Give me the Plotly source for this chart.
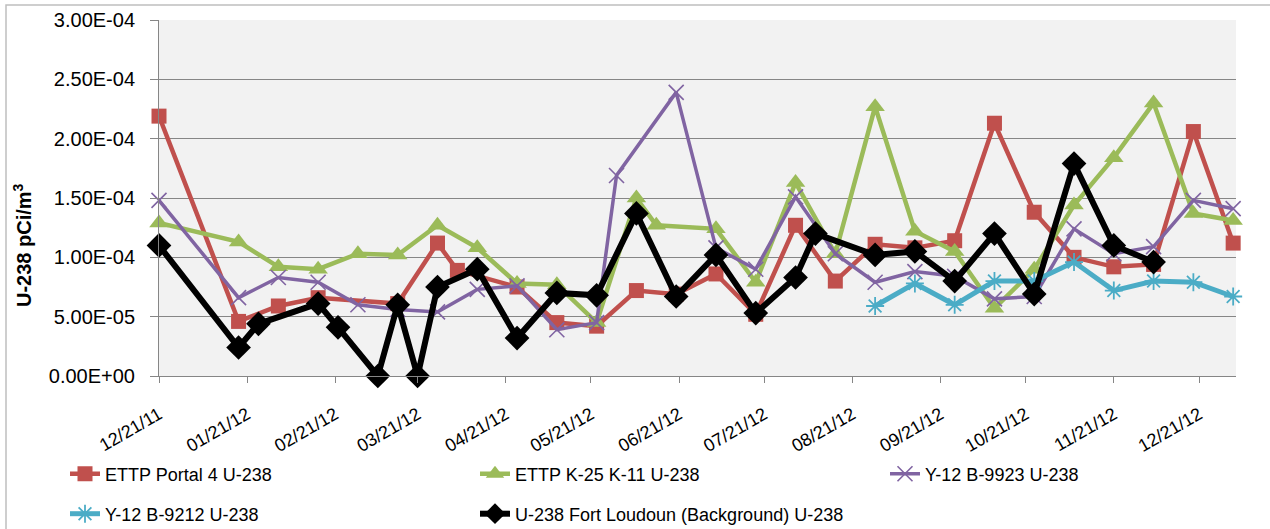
import plotly.graph_objects as go

# ---------------- data ----------------
red_dates = ["2011-12-21", "2012-01-18", "2012-02-01", "2012-02-15", "2012-03-14", "2012-03-28",
             "2012-04-04", "2012-04-25", "2012-05-09", "2012-05-23", "2012-06-06", "2012-06-20",
             "2012-07-04", "2012-07-18", "2012-08-01", "2012-08-15", "2012-08-29", "2012-09-12",
             "2012-09-26", "2012-10-10", "2012-10-24", "2012-11-07", "2012-11-21", "2012-12-05",
             "2012-12-19", "2013-01-02"]
red_vals = [2.19e-4, 4.6e-5, 5.9e-5, 6.6e-5, 6.1e-5, 1.12e-4,
            8.9e-5, 7.5e-5, 4.5e-5, 4.2e-5, 7.2e-5, 6.9e-5,
            8.6e-5, 5.2e-5, 1.27e-4, 8.0e-5, 1.11e-4, 1.08e-4,
            1.14e-4, 2.13e-4, 1.38e-4, 1.00e-4, 9.2e-5, 9.4e-5,
            2.06e-4, 1.12e-4]

green_dates = ["2011-12-21", "2012-01-18", "2012-02-01", "2012-02-15", "2012-02-29", "2012-03-14",
               "2012-03-28", "2012-04-11", "2012-04-25", "2012-05-09", "2012-05-23", "2012-06-06",
               "2012-06-13", "2012-07-04", "2012-07-18", "2012-08-01", "2012-08-15", "2012-08-29",
               "2012-09-12", "2012-09-26", "2012-10-10", "2012-10-24", "2012-11-07", "2012-11-21",
               "2012-12-05", "2012-12-19", "2013-01-02"]
green_vals = [1.29e-4, 1.13e-4, 9.2e-5, 9.0e-5, 1.03e-4, 1.02e-4,
              1.27e-4, 1.08e-4, 7.8e-5, 7.7e-5, 4.5e-5, 1.50e-4,
              1.27e-4, 1.24e-4, 7.9e-5, 1.63e-4, 1.03e-4, 2.27e-4,
              1.22e-4, 1.05e-4, 5.7e-5, 9.0e-5, 1.44e-4, 1.84e-4,
              2.30e-4, 1.37e-4, 1.31e-4]

purple_dates = ["2011-12-21", "2012-01-18", "2012-02-01", "2012-02-15", "2012-02-29", "2012-03-14",
                "2012-03-28", "2012-04-11", "2012-04-25", "2012-05-09", "2012-05-23", "2012-05-30",
                "2012-06-20", "2012-07-04", "2012-07-18", "2012-08-01", "2012-08-15", "2012-08-29",
                "2012-09-12", "2012-09-26", "2012-10-10", "2012-10-24", "2012-11-07", "2012-11-21",
                "2012-12-05", "2012-12-19", "2013-01-02"]
purple_vals = [1.48e-4, 6.6e-5, 8.3e-5, 7.9e-5, 6.0e-5, 5.6e-5,
               5.4e-5, 7.3e-5, 7.6e-5, 3.9e-5, 4.5e-5, 1.69e-4,
               2.39e-4, 1.08e-4, 9.0e-5, 1.51e-4, 1.03e-4, 7.9e-5,
               8.8e-5, 8.4e-5, 6.5e-5, 6.7e-5, 1.24e-4, 1.03e-4,
               1.09e-4, 1.48e-4, 1.41e-4]

cyan_dates = ["2012-08-29", "2012-09-12", "2012-09-26", "2012-10-10", "2012-10-24", "2012-11-07",
              "2012-11-21", "2012-12-05", "2012-12-19", "2013-01-02"]
cyan_vals = [5.9e-5, 7.8e-5, 6.0e-5, 8.0e-5, 8.0e-5, 9.6e-5,
             7.2e-5, 8.0e-5, 7.9e-5, 6.7e-5]

black_dates = ["2011-12-21", "2012-01-18", "2012-01-25", "2012-02-15", "2012-02-22", "2012-03-07",
               "2012-03-14", "2012-03-21", "2012-03-28", "2012-04-11", "2012-04-25", "2012-05-09",
               "2012-05-23", "2012-06-06", "2012-06-20", "2012-07-04", "2012-07-18", "2012-08-01",
               "2012-08-08", "2012-08-29", "2012-09-12", "2012-09-26", "2012-10-10", "2012-10-24",
               "2012-11-07", "2012-11-21", "2012-12-05"]
black_vals = [1.10e-4, 2.4e-5, 4.4e-5, 6.1e-5, 4.1e-5, 0.0,
              6.0e-5, 0.0, 7.5e-5, 9.0e-5, 3.2e-5, 7.0e-5,
              6.8e-5, 1.37e-4, 6.7e-5, 1.02e-4, 5.3e-5, 8.3e-5,
              1.20e-4, 1.02e-4, 1.05e-4, 8.0e-5, 1.20e-4, 6.9e-5,
              1.79e-4, 1.10e-4, 9.6e-5]

series_names = ["ETTP Portal 4 U-238", "ETTP K-25 K-11 U-238", "Y-12 B-9923 U-238",
                "Y-12 B-9212 U-238", "U-238 Fort Loudoun (Background) U-238"]

y_tickvals = [0, 5e-5, 1e-4, 1.5e-4, 2e-4, 2.5e-4, 3e-4]
y_ticktext = ["0.00E+00", "5.00E-05", "1.00E-04", "1.50E-04", "2.00E-04", "2.50E-04", "3.00E-04"]

y_title = "U-238 pCi/m<sup>3</sup>"

FONT = "Liberation Sans"

W, H = 1270, 529
L, R, T, B = 159, 34, 20, 153
pw = W - L - R
ph = H - T - B


def px_x(p):
    return (p - L) / pw


def px_y(p):
    return (H - B - p) / ph


fig = go.Figure()

fig.add_trace(go.Scatter(
    x=red_dates, y=red_vals, name=series_names[0], mode="lines+markers",
    line=dict(color="#C0504D", width=4.5),
    marker=dict(symbol="square", size=15, color="#C0504D"),
    cliponaxis=False, legend="legend"))
fig.add_trace(go.Scatter(
    x=green_dates, y=green_vals, name=series_names[1], mode="lines+markers",
    line=dict(color="#9BBB59", width=4.5),
    marker=dict(symbol="triangle-up", size=17, color="#9BBB59"),
    cliponaxis=False, legend="legend2"))
fig.add_trace(go.Scatter(
    x=purple_dates, y=purple_vals, name=series_names[2], mode="lines+markers",
    line=dict(color="#8064A2", width=3.5),
    marker=dict(symbol="x-thin", size=15, color="#8064A2", line=dict(color="#8064A2", width=1.6)),
    cliponaxis=False, legend="legend3"))
fig.add_trace(go.Scatter(
    x=cyan_dates, y=cyan_vals, name=series_names[3], mode="lines+markers",
    line=dict(color="#4BACC6", width=5),
    marker=dict(symbol="asterisk-open", size=15, color="#4BACC6", line=dict(color="#4BACC6", width=1.8)),
    cliponaxis=False, legend="legend4"))
fig.add_trace(go.Scatter(
    x=black_dates, y=black_vals, name=series_names[4], mode="lines+markers",
    line=dict(color="#000000", width=6),
    marker=dict(symbol="diamond", size=19, color="#000000"),
    cliponaxis=False, legend="legend5"))


def leg(xpx, ypx):
    return dict(orientation="v", x=px_x(xpx), y=px_y(ypx), xanchor="left", yanchor="middle",
                font=dict(size=18, family=FONT, color="#000000"), bgcolor="rgba(0,0,0,0)")


fig.update_layout(
    width=W, height=H,
    margin=dict(l=L, r=R, t=T, b=B, autoexpand=False),
    paper_bgcolor="white",
    plot_bgcolor="#F2F2F2",
    font=dict(family=FONT, size=18, color="#000000"),
    showlegend=True,
    legend=leg(65, 474),
    legend2=leg(475, 474),
    legend3=leg(885, 474),
    legend4=leg(65, 514),
    legend5=leg(475, 514),
    xaxis=dict(
        type="date",
        range=["2011-12-21", "2013-01-03"],
        tick0="2011-12-21", dtick="M1", tickformat="%m/%d/%y",
        tickangle=-30,
        ticks="outside", ticklen=6, tickcolor="#868686",
        ticklabelstandoff=14,
        showgrid=False, zeroline=False, automargin=False,
        showline=True, linecolor="#868686", linewidth=1,
        tickfont=dict(size=18, family=FONT),
    ),
    yaxis=dict(
        range=[0, 3e-4],
        tickvals=y_tickvals, ticktext=y_ticktext,
        ticks="outside", ticklen=8, tickcolor="#868686",
        ticklabelstandoff=11,
        showgrid=True, gridcolor="#868686", gridwidth=1,
        zeroline=False, automargin=False,
        showline=True, linecolor="#868686", linewidth=1,
        tickfont=dict(size=20, family=FONT),
    ),
    annotations=[dict(text=y_title, xref="paper", yref="paper", x=px_x(22), y=px_y(245),
                      xanchor="center", yanchor="middle", textangle=-90, showarrow=False,
                      font=dict(size=20, family=FONT, color="#000000", weight="bold"))],
    shapes=[dict(type="rect", xref="paper", yref="paper",
                 x0=px_x(6), x1=px_x(1276), y0=px_y(535), y1=px_y(5),
                 line=dict(color="#BFBFBF", width=1.5), fillcolor="rgba(0,0,0,0)", layer="below")],
)

fig.write_html("out.html", config={"displayModeBar": False},
               post_script="document.body.style.margin='0';")
